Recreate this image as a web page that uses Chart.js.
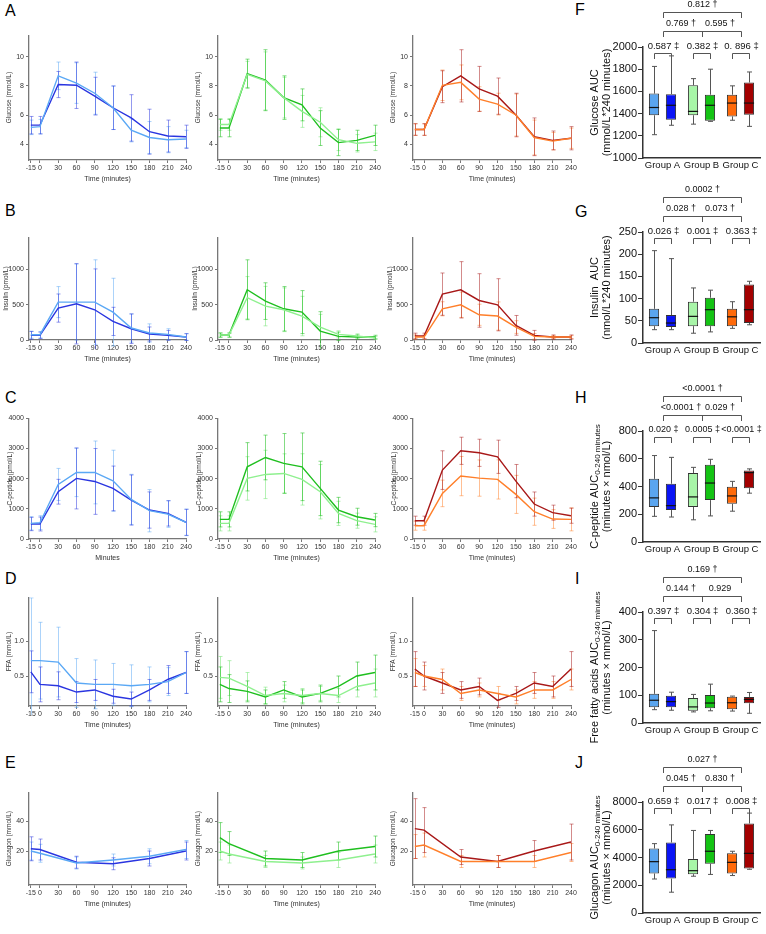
<!DOCTYPE html>
<html><head><meta charset="utf-8">
<script src="https://cdn.jsdelivr.net/npm/chart.js@4/dist/chart.umd.min.js"></script>
<style>
html,body{margin:0;padding:0;background:#fff;}
body{width:766px;height:934px;position:relative;overflow:hidden;font-family:"Liberation Sans",Arial,sans-serif;}
canvas{position:absolute;}
.lbl{position:absolute;font-size:16px;color:#000;line-height:1;}
</style></head><body>
<div class="lbl" style="left:5px;top:3px">A</div>
<div class="lbl" style="left:5px;top:203px">B</div>
<div class="lbl" style="left:5px;top:390px">C</div>
<div class="lbl" style="left:5px;top:571px">D</div>
<div class="lbl" style="left:5px;top:755px">E</div>
<div class="lbl" style="left:575px;top:2px">F</div>
<div class="lbl" style="left:575px;top:204px">G</div>
<div class="lbl" style="left:575px;top:390px">H</div>
<div class="lbl" style="left:575px;top:571px">I</div>
<div class="lbl" style="left:575px;top:755px">J</div>
<script>
// ---------------- DATA ----------------
const times = [-15,0,30,60,90,120,150,180,210,240];
const timesGlucagon = [-15,0,60,120,180,240];
const timeTicks = [-15,0,30,60,90,120,150,180,210,240];

// Glucose (mmol/L)
const gluA_light = [5.15,5.2,8.7,8.2,7.5,6.5,4.95,4.45,4.3,4.35];
const gluA_lightSD = [0.5,0.5,0.95,1.4,1.45,1.5,0.8,1.1,0.9,0.6];
const gluA_dark = [5.3,5.3,8.1,8.05,7.3,6.5,5.8,4.85,4.55,4.5];
const gluA_darkSD = [0.6,0.6,0.9,1.6,1.3,1.5,1.6,1.55,1.1,0.8];
const gluB_light = [5.35,5.35,8.8,8.35,7.2,6.25,5.5,4.3,4.05,4.15];
const gluB_lightSD = [0.4,0.4,0.9,2.0,1.4,1.1,1.0,0.75,0.6,0.6];
const gluB_dark = [5.1,5.1,8.85,8.4,7.2,6.7,5.1,4.1,4.25,4.6];
const gluB_darkSD = [0.6,0.6,1.0,2.1,1.5,1.1,1.2,0.9,0.7,0.7];
const gluC_light = [5.0,5.0,8.05,8.25,7.1,6.75,6.0,4.45,4.2,4.4];
const gluC_lightSD = [0.4,0.4,1.05,1.2,0.85,0.75,1.45,1.2,0.6,0.7];
const gluC_dark = [5.0,5.0,7.95,8.7,7.8,7.3,6.0,4.5,4.25,4.4];
const gluC_darkSD = [0.4,0.4,1.1,1.8,1.55,1.25,1.5,1.3,0.65,0.8];

// Insulin (pmol/L)
const insA_light = [75,75,538,538,538,396,170,99,80,42];
const insA_lightSD = [50,45,220,540,600,480,200,130,80,48];
const insA_dark = [66,66,453,514,429,264,160,85,66,42];
const insA_darkSD = [55,45,200,570,580,200,210,100,70,48];
const insB_light = [70,70,600,481,429,340,184,80,57,28];
const insB_lightSD = [30,30,300,280,310,280,180,50,30,20];
const insB_dark = [70,70,713,552,443,396,127,52,42,42];
const insB_darkSD = [30,30,425,260,315,305,275,60,30,25];
const insC_light = [42,42,443,500,358,340,184,52,42,42];
const insC_lightSD = [30,30,100,180,150,200,90,40,20,20];
const insC_dark = [57,57,651,712,561,500,208,66,42,42];
const insC_darkSD = [40,40,300,400,380,370,140,70,30,30];

// C-peptide (pmol/L)
const cpA_light = [518,540,1807,2204,2204,1929,1311,937,826,551];
const cpA_lightSD = [220,230,530,800,1040,1010,830,700,440,440];
const cpA_dark = [496,496,1565,2006,1906,1675,1289,959,849,551];
const cpA_darkSD = [220,230,410,1010,1090,740,830,600,420,430];
const cpB_light = [518,518,2006,2138,2171,1973,1565,849,606,485];
const cpB_lightSD = [250,250,720,800,650,850,900,400,250,250];
const cpB_dark = [650,650,2391,2700,2502,2391,1675,959,738,628];
const cpB_darkSD = [250,250,800,740,990,1120,900,420,280,220];
const cpC_light = [441,441,1510,2083,2017,1973,1477,904,661,650];
const cpC_lightSD = [150,150,440,650,600,650,630,450,310,380];
const cpC_dark = [606,606,2281,2920,2854,2722,1917,1157,871,771];
const cpC_darkSD = [150,150,640,450,450,550,550,400,250,250];

// FFA (mmol/L)
const ffaA_light = [0.72,0.72,0.7,0.4,0.38,0.38,0.36,0.38,0.42,0.55];
const ffaA_lightSD = [0.9,0.55,0.5,0.35,0.35,0.3,0.3,0.25,0.2,0.3];
const ffaA_dark = [0.56,0.38,0.36,0.27,0.3,0.21,0.17,0.3,0.45,0.55];
const ffaA_darkSD = [0.3,0.25,0.2,0.15,0.15,0.1,0.1,0.15,0.2,0.3];
const ffaB_light = [0.48,0.47,0.35,0.22,0.25,0.22,0.25,0.22,0.35,0.4];
const ffaB_lightSD = [0.3,0.25,0.2,0.12,0.12,0.1,0.1,0.1,0.15,0.2];
const ffaB_dark = [0.38,0.32,0.28,0.2,0.3,0.2,0.25,0.35,0.5,0.55];
const ffaB_darkSD = [0.25,0.2,0.15,0.1,0.12,0.1,0.12,0.15,0.2,0.25];
const ffaC_light = [0.55,0.5,0.45,0.25,0.3,0.25,0.2,0.3,0.3,0.45];
const ffaC_lightSD = [0.2,0.15,0.15,0.1,0.1,0.1,0.1,0.12,0.12,0.15];
const ffaC_dark = [0.6,0.5,0.4,0.3,0.35,0.15,0.25,0.4,0.35,0.6];
const ffaC_darkSD = [0.25,0.2,0.15,0.12,0.12,0.1,0.1,0.15,0.15,0.25];

// Glucagon
const gcgA_light = [20,18.5,12,14,16.5,21];
const gcgA_lightSD = [6,6,4,4,5,6];
const gcgA_dark = [21.5,21,12.5,11.5,15,20];
const gcgA_darkSD = [8,7,4,4,5,6];
const gcgB_light = [20,18,13,12,14,18];
const gcgB_lightSD = [6,6,4,4,5,6];
const gcgB_dark = [29,25,15,14,20,23];
const gcgB_darkSD = [10,8,5,5,6,7];
const gcgC_light = [23,24,13,13,13,19];
const gcgC_lightSD = [8,8,4,4,4,6];
const gcgC_dark = [35,34,16,13,20,26];
const gcgC_darkSD = [20,15,5,4,7,12];

// Box plot statistics, order: A light, A dark, B light, B dark, C light, C dark
const groups = ['Group A','Group B','Group C'];
const gluAUC_min = [1210,1295,1305,1330,1340,1285];
const gluAUC_q1  = [1385,1345,1385,1335,1375,1390];
const gluAUC_med = [1455,1475,1420,1475,1495,1495];
const gluAUC_q3  = [1580,1575,1655,1570,1570,1680];
const gluAUC_max = [1825,1920,1715,1800,1650,1775];

const insAUC_min = [30,30,22,25,33,41];
const insAUC_q1  = [38,36,38,38,38,45];
const insAUC_med = [57,45,60,75,59,75];
const insAUC_q3  = [77,63,93,102,77,132];
const insAUC_max = [208,190,124,119,93,139];

const cpAUC_min = [185,180,160,188,222,352];
const cpAUC_q1  = [253,230,253,302,275,388];
const cpAUC_med = [318,262,325,425,332,500];
const cpAUC_q3  = [455,420,497,557,398,515];
const cpAUC_max = [623,610,538,596,437,527];

const ffaAUC_min = [48,46,40,44,43,35];
const ffaAUC_q1  = [57,57,44,53,50,71];
const ffaAUC_med = [82,77,58,72,73,85];
const ffaAUC_q3  = [105,98,90,101,95,94];
const ffaAUC_max = [333,111,103,140,97,110];

const gcgAUC_min = [2450,1500,2650,2780,2700,3150];
const gcgAUC_q1  = [2850,2480,2800,3550,2850,3200];
const gcgAUC_med = [3700,3120,3050,4450,3650,4300];
const gcgAUC_q3  = [4650,5080,3900,5700,4300,6450];
const gcgAUC_max = [5000,6350,5950,5950,4450,7200];

// ---------------- STYLE / LAYOUT ----------------
const F = '"Liberation Sans", Arial, sans-serif';
const COLS = [{l:29,r:186},{l:218,r:375},{l:413,r:571}];
const PAL = [
  {light:'#5aa8f5', dark:'#2a35e0', le:'rgba(90,168,245,0.5)', de:'rgba(42,53,224,0.5)'},
  {light:'#8ff08f', dark:'#1fbf1f', le:'rgba(120,230,120,0.55)', de:'rgba(31,191,31,0.55)'},
  {light:'#ff7f2a', dark:'#a81818', le:'rgba(255,127,42,0.5)', de:'rgba(168,24,24,0.5)'}
];
const BOXC = ['#5aa5ef','#0a14f5','#a8f5a8','#14c314','#ff6a0a','#a30000'];

const errPlugin = {id:'err', beforeDatasetsDraw(chart){
  const {ctx, chartArea:ca, scales:{x,y}} = chart;
  ctx.save();
  ctx.beginPath(); ctx.rect(ca.left-5, ca.top, ca.width+10, ca.height+9); ctx.clip();
  chart.data.datasets.forEach(ds => {
    if(!ds.sd) return;
    ctx.strokeStyle = ds.errColor; ctx.lineWidth = 1;
    ds.data.forEach((p,i) => {
      const px = Math.round(x.getPixelForValue(p.x))+0.5;
      const y1 = y.getPixelForValue(p.y + ds.sd[i]), y2 = y.getPixelForValue(p.y - ds.sd[i]);
      ctx.beginPath(); ctx.moveTo(px,y1); ctx.lineTo(px,y2);
      ctx.moveTo(px-2,y1); ctx.lineTo(px+2,y1); ctx.moveTo(px-2,y2); ctx.lineTo(px+2,y2);
      ctx.stroke();
    });
  });
  ctx.restore();
}};

function mkLine(col, row, xs, sets, pal, xTitle, yTitle){
  const W = col.r - col.l + 40, H = Math.round(row.b - row.t) + 6 + 28;
  const cv = document.createElement('canvas');
  cv.width = W; cv.height = H;
  cv.style.left = (col.l - 28) + 'px'; cv.style.top = Math.round(row.t - 6) + 'px';
  document.body.appendChild(cv);
  const ds = [
    {v:sets[0], sd:sets[1], c:pal.light, e:pal.le},
    {v:sets[2], sd:sets[3], c:pal.dark, e:pal.de}
  ].map(d => ({
    data: xs.map((x,i)=>({x, y:d.v[i]})), sd:d.sd, errColor:d.e,
    borderColor:d.c, borderWidth:1.4, pointRadius:0, tension:0, fill:false
  }));
  new Chart(cv, {
    type:'line',
    data:{datasets:ds},
    options:{
      responsive:false, animation:false, devicePixelRatio:1,
      layout:{padding:{left:0, top:6, right:12, bottom:0}},
      plugins:{legend:{display:false}, tooltip:{enabled:false}},
      scales:{
        x:{type:'linear', min:-18, max:240,
          afterFit:s=>{s.height=28;},
          afterBuildTicks:s=>{s.ticks = timeTicks.map(v=>({value:v}));},
          ticks:{autoSkip:false, maxRotation:0, font:{size:7, family:F}, color:'#333', padding:1},
          grid:{display:true, drawOnChartArea:false, drawTicks:true, tickLength:3, color:'#777'},
          border:{display:true, color:'#777', width:1.3},
          title:{display:true, text:xTitle, font:{size:7, family:F}, color:'#333', padding:{top:0, bottom:4.8}}},
        y:{type:'linear', min:row.min, max:row.max,
          afterFit:s=>{s.width=28;},
          afterBuildTicks:s=>{s.ticks = row.ticks.map(v=>({value:v}));},
          ticks:{autoSkip:false, font:{size:7, family:F}, color:'#333', padding:2,
                 callback:(v)=> row.fmt ? row.fmt(v) : String(v)},
          grid:{display:true, drawOnChartArea:false, drawTicks:true, tickLength:3, color:'#777'},
          border:{display:true, color:'#777', width:1.3},
          title:{display:true, text:yTitle, font:{size:6.5, family:F}, color:'#333', padding:{top:row.tp, bottom:0}}}
      }
    },
    plugins:[errPlugin]
  });
}

const ROWS = {
  A:{t:35, b:160, min:2.9, max:11.5, ticks:[4,6,8,10], tp:4.5},
  B:{t:237, b:340, min:0, max:1459, ticks:[0,500,1000], tp:1},
  C:{t:418, b:539, min:0, max:4000, ticks:[0,1000,2000,3000,4000], tp:5.5},
  D:{t:597, b:706, min:0.07, max:1.63, ticks:[0.5,1.0], fmt:v=>v.toFixed(1), tp:4.5},
  E:{t:792, b:885, min:-2.7, max:59.3, ticks:[20,40], tp:4.5}
};

mkLine(COLS[0], ROWS.A, times, [gluA_light,gluA_lightSD,gluA_dark,gluA_darkSD], PAL[0], 'Time (minutes)', 'Glucose (mmol/L)');
mkLine(COLS[1], ROWS.A, times, [gluB_light,gluB_lightSD,gluB_dark,gluB_darkSD], PAL[1], 'Time (minutes)', 'Glucose (mmol/L)');
mkLine(COLS[2], ROWS.A, times, [gluC_light,gluC_lightSD,gluC_dark,gluC_darkSD], PAL[2], 'Time (minutes)', 'Glucose (mmol/L)');
mkLine(COLS[0], ROWS.B, times, [insA_light,insA_lightSD,insA_dark,insA_darkSD], PAL[0], 'Time (minutes)', 'Insulin (pmol/L)');
mkLine(COLS[1], ROWS.B, times, [insB_light,insB_lightSD,insB_dark,insB_darkSD], PAL[1], 'Time (minutes)', 'Insulin (pmol/L)');
mkLine(COLS[2], ROWS.B, times, [insC_light,insC_lightSD,insC_dark,insC_darkSD], PAL[2], 'Time (minutes)', 'Insulin (pmol/L)');
mkLine(COLS[0], ROWS.C, times, [cpA_light,cpA_lightSD,cpA_dark,cpA_darkSD], PAL[0], 'Minutes', 'C-peptide (pmol/L)');
mkLine(COLS[1], ROWS.C, times, [cpB_light,cpB_lightSD,cpB_dark,cpB_darkSD], PAL[1], 'Time (minutes)', 'C-peptide (pmol/L)');
mkLine(COLS[2], ROWS.C, times, [cpC_light,cpC_lightSD,cpC_dark,cpC_darkSD], PAL[2], 'Time (minutes)', 'C-peptide (pmol/L)');
mkLine(COLS[0], ROWS.D, times, [ffaA_light,ffaA_lightSD,ffaA_dark,ffaA_darkSD], PAL[0], 'Time (minutes)', 'FFA (mmol/L)');
mkLine(COLS[1], ROWS.D, times, [ffaB_light,ffaB_lightSD,ffaB_dark,ffaB_darkSD], PAL[1], 'Time (minutes)', 'FFA (mmol/L)');
mkLine(COLS[2], ROWS.D, times, [ffaC_light,ffaC_lightSD,ffaC_dark,ffaC_darkSD], PAL[2], 'Time (minutes)', 'FFA (mmol/L)');
mkLine(COLS[0], ROWS.E, timesGlucagon, [gcgA_light,gcgA_lightSD,gcgA_dark,gcgA_darkSD], PAL[0], 'Time (minutes)', 'Glucagon (mmol/L)');
mkLine(COLS[1], ROWS.E, timesGlucagon, [gcgB_light,gcgB_lightSD,gcgB_dark,gcgB_darkSD], PAL[1], 'Time (minutes)', 'Glucagon (mmol/L)');
mkLine(COLS[2], ROWS.E, timesGlucagon, [gcgC_light,gcgC_lightSD,gcgC_dark,gcgC_darkSD], PAL[2], 'Time (minutes)', 'Glucagon (mmol/L)');

// ---------------- BOX PLOTS ----------------
function drawRot(ctx, x, yc, parts){
  ctx.save(); ctx.translate(x, yc); ctx.rotate(-Math.PI/2);
  let total = 0;
  parts.forEach(p => { ctx.font = p.s + 'px ' + F; p.w = ctx.measureText(p.t).width; total += p.w; });
  let cx = -total/2;
  ctx.textBaseline = 'middle'; ctx.textAlign = 'left'; ctx.fillStyle = '#111';
  parts.forEach(p => { ctx.font = p.s + 'px ' + F; ctx.fillText(p.t, cx, p.sub ? 3 : 0); cx += p.w; });
  ctx.restore();
}

const boxPlugin = {id:'boxann', afterDatasetsDraw(chart, args, o){
  const {ctx, chartArea:ca, scales:{x:xs, y:ys}} = chart;
  const st = o.stats;
  ctx.save();
  for(let d=0; d<2; d++){
    const meta = chart.getDatasetMeta(d);
    for(let g=0; g<3; g++){
      const el = meta.data[g], i = g*2+d;
      const x = Math.round(el.x)+0.5, w = el.width;
      const yMin = ys.getPixelForValue(st.min[i]), yQ1 = ys.getPixelForValue(st.q1[i]);
      const yQ3 = ys.getPixelForValue(st.q3[i]), yMax = ys.getPixelForValue(st.max[i]);
      const yMed = ys.getPixelForValue(st.med[i]);
      ctx.strokeStyle = '#555'; ctx.lineWidth = 1;
      ctx.beginPath();
      ctx.moveTo(x, yQ3); ctx.lineTo(x, yMax); ctx.moveTo(x-2.5, yMax); ctx.lineTo(x+2.5, yMax);
      ctx.moveTo(x, yQ1); ctx.lineTo(x, yMin); ctx.moveTo(x-2.5, yMin); ctx.lineTo(x+2.5, yMin);
      ctx.stroke();
      ctx.strokeStyle = '#111'; ctx.lineWidth = 1.2;
      ctx.beginPath(); ctx.moveTo(el.x - w/2, yMed); ctx.lineTo(el.x + w/2, yMed); ctx.stroke();
    }
  }
  const T = ca.top;
  const gx = [0,1,2].map(i => Math.round(xs.getPixelForValue(i))+0.5);
  ctx.strokeStyle = '#555'; ctx.lineWidth = 1;
  ctx.beginPath();
  ctx.moveTo(gx[0], T-29); ctx.lineTo(gx[0], T-34.5); ctx.lineTo(gx[2], T-34.5); ctx.lineTo(gx[2], T-29);
  ctx.moveTo(gx[0], T-10); ctx.lineTo(gx[0], T-15.5); ctx.lineTo(gx[2], T-15.5); ctx.lineTo(gx[2], T-10);
  ctx.moveTo(gx[1], T-15.5); ctx.lineTo(gx[1], T-10);
  const m0 = chart.getDatasetMeta(0), m1 = chart.getDatasetMeta(1);
  for(let g=0; g<3; g++){
    const a = Math.round(m0.data[g].x)+0.5, b = Math.round(m1.data[g].x)+0.5;
    ctx.moveTo(a, T+12); ctx.lineTo(a, T+6.5); ctx.lineTo(b, T+6.5); ctx.lineTo(b, T+12);
  }
  ctx.stroke();
  ctx.fillStyle = '#111'; ctx.textAlign = 'center'; ctx.textBaseline = 'middle';
  ctx.font = '9px ' + F;
  ctx.fillText(o.top, gx[1], T-42);
  ctx.fillText(o.midL, (gx[0]+gx[1])/2 - 2, T-23);
  ctx.fillText(o.midR, (gx[1]+gx[2])/2 - 2, T-23);
  ctx.font = o.lowSize + 'px ' + F;
  for(let g=0; g<3; g++) ctx.fillText(o.low[g], gx[g], T-1);
  const yc = (ca.top + ca.bottom)/2;
  drawRot(ctx, ca.left - 48, yc, o.t1);
  drawRot(ctx, ca.left - 36, yc, [{t:o.t2, s:11}]);
  ctx.restore();
}};

function mkBox(T, yMin, yMax, yStep, ann){
  const st = ann.stats;
  const left = 570, W = 196, H = 50 + 111 + 22;
  const cv = document.createElement('canvas');
  cv.width = W; cv.height = H;
  cv.style.left = left + 'px'; cv.style.top = (T - 50) + 'px';
  document.body.appendChild(cv);
  const mk = d => ({
    data: [0,1,2].map(g => [st.q1[g*2+d], st.q3[g*2+d]]),
    backgroundColor: [0,1,2].map(g => BOXC[g*2+d]),
    borderColor:'#333', borderWidth:1, borderSkipped:false,
    barPercentage:0.6, categoryPercentage:0.87
  });
  new Chart(cv, {
    type:'bar',
    data:{labels:groups, datasets:[mk(0), mk(1)]},
    options:{
      responsive:false, animation:false, devicePixelRatio:1,
      layout:{padding:{left:0, top:50, right:6, bottom:0}},
      plugins:{legend:{display:false}, tooltip:{enabled:false}, boxann:ann},
      scales:{
        x:{type:'category', afterFit:s=>{s.height=22;},
           ticks:{font:{size:9.5, family:F}, color:'#111', padding:2, maxRotation:0},
           grid:{display:false, drawTicks:false, tickLength:0}, border:{display:true, color:'#333', width:1.5}},
        y:{min:yMin, max:yMax, afterFit:s=>{s.width=73;},
           ticks:{stepSize:yStep, font:{size:11, family:F}, color:'#111', padding:1, callback:v=>String(v)},
           grid:{display:true, drawOnChartArea:false, drawTicks:true, tickLength:5, color:'#333'},
           border:{display:true, color:'#333', width:1.5}}
      }
    },
    plugins:[boxPlugin]
  });
}

mkBox(47, 1000, 2000, 200,
  {stats:{min:gluAUC_min,q1:gluAUC_q1,med:gluAUC_med,q3:gluAUC_q3,max:gluAUC_max},
   top:'0.812 †', midL:'0.769 †', midR:'0.595 †', low:['0.587 ‡','0.382 ‡','0. 896 ‡'], lowSize:9.5,
   t1:[{t:'Glucose AUC', s:11}], t2:'(mmol/L*240 minutes)'});
mkBox(232, 0, 250, 50,
  {stats:{min:insAUC_min,q1:insAUC_q1,med:insAUC_med,q3:insAUC_q3,max:insAUC_max},
   top:'0.0002 †', midL:'0.028 †', midR:'0.073 †', low:['0.026 ‡','0.001 ‡','0.363 ‡'], lowSize:9.5,
   t1:[{t:'Insulin  AUC', s:11}], t2:'(nmol/L*240 minutes)'});
mkBox(431, 0, 800, 200,
  {stats:{min:cpAUC_min,q1:cpAUC_q1,med:cpAUC_med,q3:cpAUC_q3,max:cpAUC_max},
   top:'<0.0001 †', midL:'<0.0001 †', midR:'0.029 †', low:['0.020 ‡','0.0005 ‡','<0.0001 ‡'], lowSize:9,
   t1:[{t:'C-peptide AUC', s:11},{t:'0-240 minutes', s:8, sub:true}], t2:'(minutes × nmol/L)'});
mkBox(612, 0, 400, 100,
  {stats:{min:ffaAUC_min,q1:ffaAUC_q1,med:ffaAUC_med,q3:ffaAUC_q3,max:ffaAUC_max},
   top:'0.169 †', midL:'0.144 †', midR:'0.929', low:['0.397 ‡','0.304 ‡','0.360 ‡'], lowSize:9.5,
   t1:[{t:'Free fatty acids AUC', s:11},{t:'0-240 minutes', s:8, sub:true}], t2:'(minutes × mmol/L)'});
mkBox(802, 0, 8000, 2000,
  {stats:{min:gcgAUC_min,q1:gcgAUC_q1,med:gcgAUC_med,q3:gcgAUC_q3,max:gcgAUC_max},
   top:'0.027 †', midL:'0.045 †', midR:'0.830 †', low:['0.659 ‡','0.017 ‡','0.008 ‡'], lowSize:9.5,
   t1:[{t:'Glucagon AUC', s:11},{t:'0-240 minutes', s:8, sub:true}], t2:'(minutes × mmol/L)'});
</script>
</body></html>
